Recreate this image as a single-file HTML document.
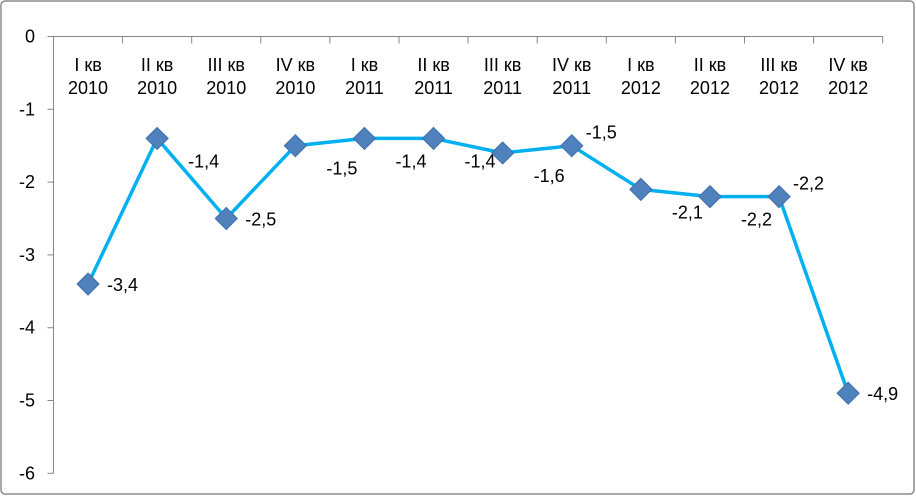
<!DOCTYPE html>
<html><head><meta charset="utf-8"><style>
html,body{margin:0;padding:0;background:#fff}
svg{display:block;font-family:"Liberation Sans",Calibri,sans-serif}
</style></head><body>
<svg width="916" height="496" viewBox="0 0 916 496">
<rect x="1" y="1" width="913" height="493" rx="4" fill="#fff" stroke="#8c8c8c" stroke-width="1.5"/>
<g id="axes"></g>
<g id="series"></g>
</svg>
<script>
const categories = ["I кв|2010","II кв|2010","III кв|2010","IV кв|2010","I кв|2011","II кв|2011","III кв|2011","IV кв|2011","I кв|2012","II кв|2012","III кв|2012","IV кв|2012"];
const values = [-3.4,-1.4,-2.5,-1.5,-1.4,-1.4,-1.6,-1.5,-2.1,-2.2,-2.2,-4.9];
const yTicks = [0,-1,-2,-3,-4,-5,-6];
const labelSide = ["r","br","r","br","br","br","br","tr","br","br","tr","r"];
const NS="http://www.w3.org/2000/svg";
const x0=53.5, y0=36.5, unit=72.8, step=69.1;
function X(i){return x0+step*(i+0.5);}
function Y(v){return y0-v*unit;}
function mk(tag,attrs,parent){const e=document.createElementNS(NS,tag);for(const k in attrs)e.setAttribute(k,attrs[k]);parent.appendChild(e);return e;}
const ax=document.getElementById('axes'), sr=document.getElementById('series');
const yl=mk('line',{x1:x0,y1:Y(0),x2:x0,y2:Y(-6),stroke:'#868686','stroke-width':1},ax);


const xl=mk('line',{x1:x0,y1:Y(0),x2:x0+step*categories.length,y2:Y(0),stroke:'#868686','stroke-width':1},ax);


yTicks.forEach(v=>{
  const t=mk('line',{x1:x0-6,y1:Y(v),x2:x0,y2:Y(v),stroke:'#868686'},ax);
  
  
  const l=mk('text',{x:35,y:Y(v)+6,'text-anchor':'end','font-size':18,fill:'#000'},ax);
  l.textContent=String(v);
  
  
});
categories.forEach((c,i)=>{
  const tx=x0+step*(i+1);
  const t=mk('line',{x1:tx,y1:Y(0),x2:tx,y2:Y(0)+7,stroke:'#868686'},ax);
  
  
  const parts=c.split('|');
  const l=mk('text',{x:X(i),y:71,'text-anchor':'middle','font-size':18,fill:'#000'},ax);
  
  
  const a=mk('tspan',{x:X(i),dy:0},l);a.textContent=parts[0];
  const b=mk('tspan',{x:X(i),dy:23},l);b.textContent=parts[1];
});
const pl=mk('polyline',{points:values.map((v,i)=>X(i)+','+Y(v)).join(' '),fill:'none',stroke:'#00b0f0','stroke-width':3.5,'stroke-linejoin':'round'},sr);


values.forEach((v,i)=>{
  const cx=X(i),cy=Y(v),s=11;
  const m=mk('polygon',{points:`${cx},${cy-s} ${cx+s},${cy} ${cx},${cy+s} ${cx-s},${cy}`,fill:'#4f81bd',stroke:'#3f6ea8','stroke-width':1},sr);
  
  
  const side=labelSide[i];
  let lx=cx+19, ly=cy+7;
  if(side==='br'){lx=cx+31;ly=cy+29;}
  if(side==='tr'){lx=cx+14;ly=cy-7;}
  const l=mk('text',{x:lx,y:ly,'font-size':18,fill:'#000'},sr);
  l.textContent=String(v).replace('.',',');
  
  
});
</script>
</body></html>
